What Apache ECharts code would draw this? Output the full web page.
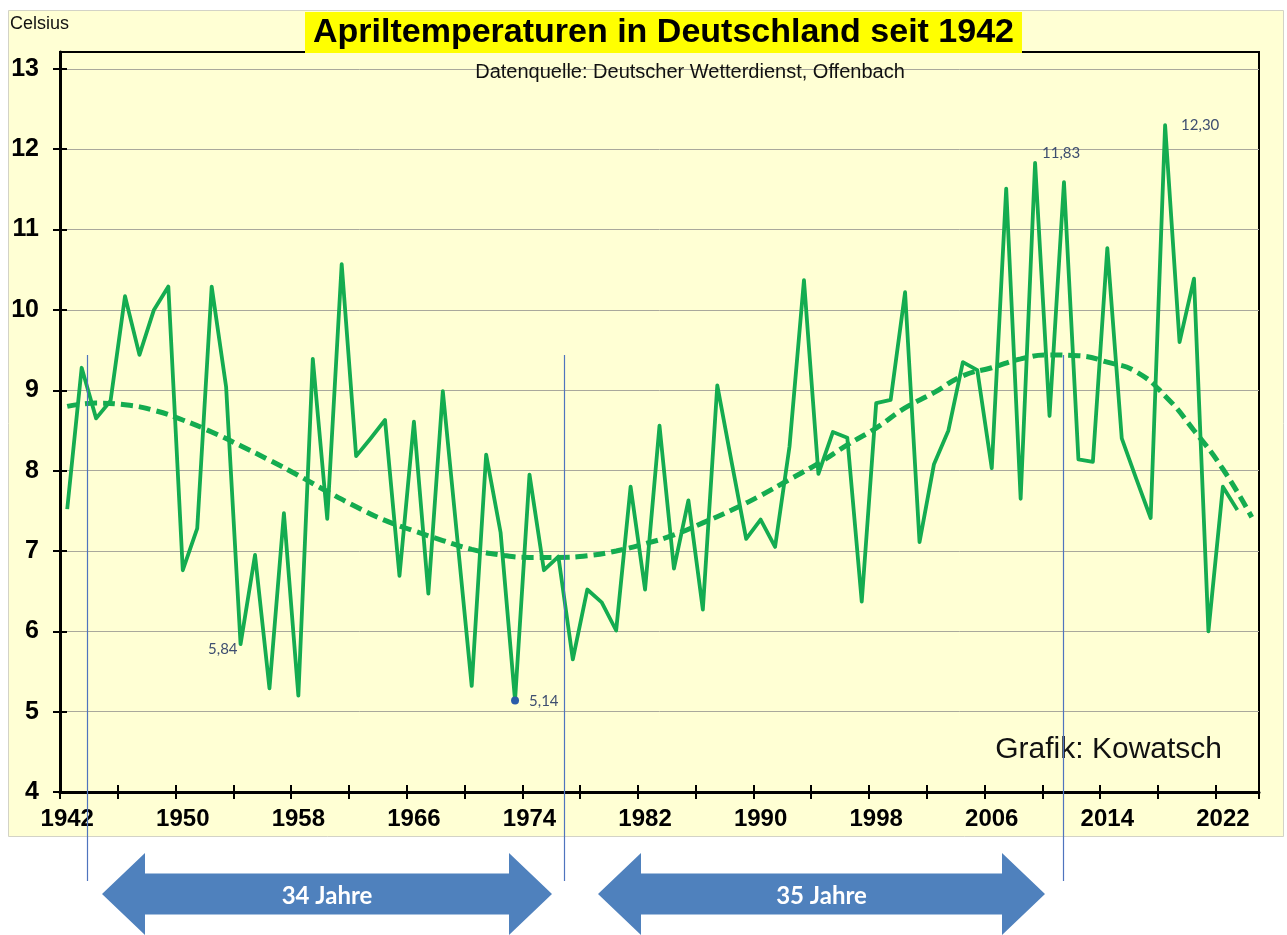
<!DOCTYPE html>
<html>
<head>
<meta charset="utf-8">
<script src="https://cdn.jsdelivr.net/npm/echarts@6/dist/echarts.min.js"></script>
<style>
html,body{margin:0;padding:0;background:#ffffff;}
#chart{width:1287px;height:935px;}
</style>
</head>
<body>
<div id="chart"></div>
<script>
// ---------- DATA ----------
const years = ['1942','1943','1944','1945','1946','1947','1948','1949','1950','1951',
  '1952','1953','1954','1955','1956','1957','1958','1959','1960','1961',
  '1962','1963','1964','1965','1966','1967','1968','1969','1970','1971',
  '1972','1973','1974','1975','1976','1977','1978','1979','1980','1981',
  '1982','1983','1984','1985','1986','1987','1988','1989','1990','1991',
  '1992','1993','1994','1995','1996','1997','1998','1999','2000','2001',
  '2002','2003','2004','2005','2006','2007','2008','2009','2010','2011',
  '2012','2013','2014','2015','2016','2017','2018','2019','2020','2021',
  '2022','2023','2024'];

// April mean temperature Germany (°C), 1942-2023
const aprilTemps = [7.52, 9.28, 8.65, 8.87, 10.17, 9.44, 10.0, 10.29, 6.76, 7.28,
  10.29, 9.04, 5.84, 6.95, 5.29, 7.47, 5.20, 9.39, 7.40, 10.57,
  8.18, 8.40, 8.63, 6.69, 8.61, 6.47, 8.99, 7.16, 5.32, 8.20,
  7.23, 5.14, 7.95, 6.76, 6.93, 5.65, 6.52, 6.36, 6.01, 7.80,
  6.52, 8.56, 6.78, 7.63, 6.27, 9.06, 8.10, 7.15, 7.39, 7.05,
  8.30, 10.37, 7.96, 8.48, 8.41, 6.37, 8.84, 8.88, 10.22, 7.11,
  8.08, 8.50, 9.35, 9.25, 8.03, 11.51, 7.65, 11.83, 8.68, 11.59,
  8.14, 8.11, 10.77, 8.40, 7.90, 7.41, 12.30, 9.60, 10.39, 6.00,
  7.80, 7.51];

// Polynomial trend (even years), 1942-2024
const trendValues = [8.80, null, 8.84, null, 8.82, null, 8.75, null, 8.63, null,
  8.48, null, 8.31, null, 8.13, null, 7.94, null, 7.74, null,
  7.55, null, 7.38, null, 7.25, null, 7.13, null, 7.02, null,
  6.95, null, 6.92, null, 6.92, null, 6.94, null, 7.00, null,
  7.09, null, 7.20, null, 7.35, null, 7.51, null, 7.69, null,
  7.89, null, 8.09, null, 8.32, null, 8.53, null, 8.78, null,
  8.97, null, 9.18, null, 9.28, null, 9.39, null, 9.44, null,
  9.43, null, 9.35, null, 9.23, null, 8.93, null, 8.50, null,
  8.02, null, 7.42];

const yTicks = [4, 5, 6, 7, 8, 9, 10, 11, 12, 13];

// Annotated extremes
const labelledYears = ['1954', '1973', '2009', '2018'];

// Period marker positions (fractional years) and arrow labels
const periodMarks = [1943.4, 1976.4, 2010.9];
const periodLabels = ['34 Jahre', '35 Jahre'];

// ---------- STYLE ----------
const GREEN = '#14AC50';
const CREAM = '#FFFFD4';
const FONT = '"Liberation Sans", Arial, sans-serif';
const LFONT = 'Lato, "Open Sans", sans-serif';
const G = {left: 60, top: 52, right: 28, bottom: 143};
const plotW = 1287 - G.left - G.right;
const plotH = 935 - G.top - G.bottom;

const fmtComma = v => Number(v).toFixed(2).replace('.', ',');
const valueOf = y => aprilTemps[years.indexOf(y)];

const labelStyle = {
  show: true, color: '#3E4E70', fontFamily: LFONT, fontSize: 15,
  formatter: p => fmtComma(p.value)
};

const markData = [
  {coord: [labelledYears[0], valueOf(labelledYears[0])], value: valueOf(labelledYears[0]),
   symbolSize: 0, label: Object.assign({}, labelStyle, {position: 'left', distance: 3, offset: [0, 5]})},
  {coord: [labelledYears[1], valueOf(labelledYears[1])], value: valueOf(labelledYears[1]),
   symbolSize: 8, itemStyle: {color: '#2A5CAA'},
   label: Object.assign({}, labelStyle, {position: 'right', distance: 10, offset: [0, 1]})},
  {coord: [labelledYears[2], valueOf(labelledYears[2])], value: valueOf(labelledYears[2]),
   symbolSize: 0, label: Object.assign({}, labelStyle, {position: 'top', distance: 2, offset: [26, 0]})},
  {coord: [labelledYears[3], valueOf(labelledYears[3])], value: valueOf(labelledYears[3]),
   symbolSize: 0, label: Object.assign({}, labelStyle, {position: 'right', distance: 16, offset: [0, 0]})}
];

const chart = echarts.init(document.getElementById('chart'), null, {renderer: 'canvas'});

const option = {
  animation: false,
  backgroundColor: '#ffffff',
  title: [{
    text: 'Apriltemperaturen in Deutschland seit 1942',
    left: 305, top: 12,
    backgroundColor: '#FFFF00',
    padding: [4, 8, 3, 8],
    z: 10,
    textStyle: {fontFamily: FONT, fontWeight: 'bold', fontSize: 34, lineHeight: 34, color: '#000'}
  }],
  grid: {
    left: G.left, top: G.top, right: G.right, bottom: G.bottom,
    show: true, backgroundColor: CREAM, borderColor: '#000', borderWidth: 2
  },
  xAxis: [{
    type: 'category', data: years, boundaryGap: true,
    axisLine: {lineStyle: {color: '#000', width: 3}},
    axisTick: {show: true, inside: true, length: 7, interval: 3, lineStyle: {color: '#000', width: 2}},
    axisLabel: {interval: 7, margin: 15, fontFamily: FONT, fontWeight: 'bold', fontSize: 24, color: '#000'},
    splitLine: {show: false}
  }, {
    type: 'category', data: years, boundaryGap: true, position: 'top', offset: -plotH,
    axisLine: {show: false},
    axisTick: {show: true, inside: true, length: 7, interval: 3, lineStyle: {color: '#000', width: 2}},
    axisLabel: {show: false}, splitLine: {show: false}
  }],
  yAxis: [{
    type: 'value', min: 4, max: 13.21, interval: 1,
    axisLine: {show: true, lineStyle: {color: '#000', width: 3}},
    axisTick: {show: true, inside: true, length: 7, customValues: yTicks, lineStyle: {color: '#000', width: 2}},
    axisLabel: {customValues: yTicks, margin: 21, fontFamily: FONT, fontWeight: 'bold', fontSize: 25, color: '#000',
      formatter: v => (Math.abs(v - Math.round(v)) < 1e-6 ? String(Math.round(v)) : '')},
    splitLine: {show: true, lineStyle: {color: '#A9A89C', width: 1}}
  }, {
    type: 'value', min: 4, max: 13.21, interval: 1, position: 'right', offset: -plotW,
    axisLine: {show: false},
    axisTick: {show: true, inside: true, length: 7, customValues: yTicks, lineStyle: {color: '#000', width: 2}},
    axisLabel: {show: false}, splitLine: {show: false}
  }],
  series: [{
    name: 'Trend', type: 'line', data: trendValues, connectNulls: true, smooth: 0.5,
    symbol: 'none', z: 2,
    lineStyle: {color: GREEN, width: 5, type: [12, 6]}
  }, {
    name: 'April', type: 'line', data: aprilTemps, symbol: 'none', z: 3,
    lineStyle: {color: GREEN, width: 3.8, join: 'round'},
    markPoint: {symbol: 'circle', data: markData, z: 4}
  }]
};
chart.setOption(option);

// ---------- ANNOTATIONS ----------
const x0 = chart.convertToPixel({xAxisIndex: 0}, years[0]);
const x1 = chart.convertToPixel({xAxisIndex: 0}, years[1]);
const cellW = x1 - x0;
const yearToX = yf => x0 + (yf - Number(years[0])) * cellW;

const graphics = [];
graphics.push({
  type: 'rect', z: -10, silent: true,
  shape: {x: 8.5, y: 10.5, width: 1275, height: 826},
  style: {fill: CREAM, stroke: '#D3D3C6', lineWidth: 1}
});
graphics.push({
  type: 'text', z: 10, x: 10, y: 24,
  style: {text: 'Celsius', fontFamily: FONT, fontSize: 18, fill: '#111', verticalAlign: 'middle'}
});
graphics.push({
  type: 'text', z: 10, x: 690, y: 72,
  style: {text: 'Datenquelle: Deutscher Wetterdienst, Offenbach', fontFamily: FONT, fontSize: 20, fill: '#111',
    align: 'center', verticalAlign: 'middle'}
});
graphics.push({
  type: 'text', z: 10, x: 1222, y: 750,
  style: {text: 'Grafik: Kowatsch', fontFamily: FONT, fontSize: 30, fill: '#111', align: 'right', verticalAlign: 'middle'}
});
periodMarks.forEach(yf => {
  const x = Math.round(yearToX(yf)) + 0.5;
  graphics.push({
    type: 'line', z: 20, silent: true,
    shape: {x1: x, y1: 355, x2: x, y2: 881},
    style: {stroke: '#4F74BE', lineWidth: 1.2}
  });
});
function arrowPts(l, r, cy) {
  const hh = 41, sh = 20.5, hl = 43;
  return [[l, cy], [l + hl, cy - hh], [l + hl, cy - sh], [r - hl, cy - sh], [r - hl, cy - hh], [r, cy],
          [r - hl, cy + hh], [r - hl, cy + sh], [l + hl, cy + sh], [l + hl, cy + hh]];
}
const arrows = [[102, 552], [598, 1045]];
arrows.forEach((a, i) => {
  graphics.push({type: 'polygon', z: 10, shape: {points: arrowPts(a[0], a[1], 894)}, style: {fill: '#4F81BD'}});
  graphics.push({
    type: 'text', z: 11, x: (a[0] + a[1]) / 2, y: 896,
    style: {text: periodLabels[i], fontFamily: LFONT, fontWeight: 'bold', fontSize: 24, fill: '#ffffff',
      align: 'center', verticalAlign: 'middle'}
  });
});
chart.setOption({graphic: graphics});
</script>
</body>
</html>
